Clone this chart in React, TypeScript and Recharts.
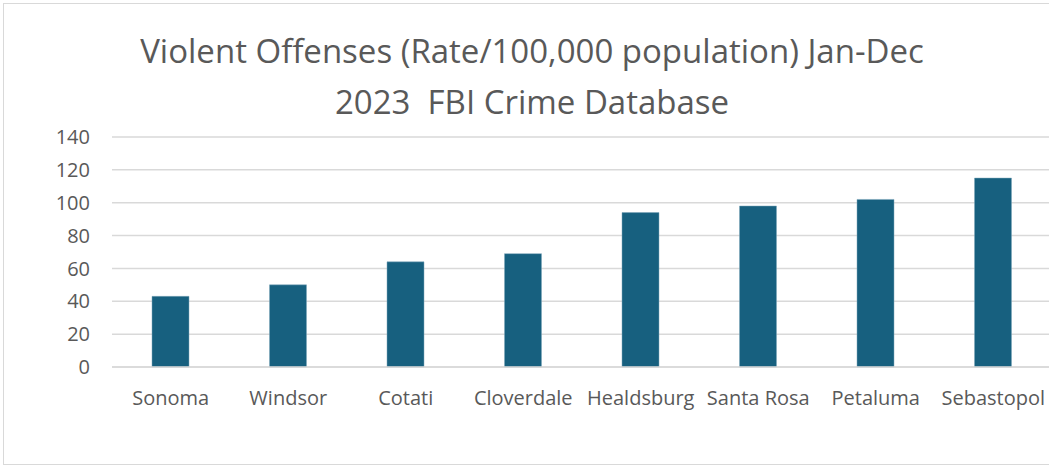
import { Bar, BarChart, CartesianGrid, XAxis, YAxis } from "recharts";

const CITIES = [
	"Sonoma",
	"Windsor",
	"Cotati",
	"Cloverdale",
	"Healdsburg",
	"Santa Rosa",
	"Petaluma",
	"Sebastopol",
];
const RATES = [43, 50, 64, 69, 94, 98, 102, 115];
const Y_TICKS = [0, 20, 40, 60, 80, 100, 120, 140];
const TITLE_LINES = [
	"Violent Offenses (Rate/100,000 population) Jan-Dec",
	"2023  FBI Crime Database",
];

const data = CITIES.map((city, i) => ({ city, rate: RATES[i] }));

const FONT = "'Open Sans', sans-serif";
const TEXT_GRAY = "#595959";
const GRID = "#d9d9d9";

export default function App() {
	return (
		<div
			style={{
				position: "absolute",
				left: 0,
				top: 0,
				width: 1049,
				height: 466,
				overflow: "hidden",
				background: "#fff",
				fontFamily: FONT,
			}}
		>
			{/* chart-area frame, open on the right like the cropped original */}
			<div
				style={{
					position: "absolute",
					left: 3,
					top: 3,
					width: 1100,
					height: 460,
					borderLeft: `1px solid ${GRID}`,
					borderTop: `1px solid ${GRID}`,
					borderBottom: `1px solid ${GRID}`,
				}}
			/>
			<div style={{ position: "absolute", left: 0, top: 0 }}>
				<BarChart
					width={1060}
					height={466}
					data={data}
					margin={{ top: 137, right: 8, left: 0, bottom: 69 }}
				>
					<CartesianGrid vertical={false} stroke={GRID} strokeWidth={1.5} />
					<XAxis
						dataKey="city"
						height={30}
						tickLine={false}
						tickSize={0}
						tickMargin={24}
						axisLine={{ stroke: GRID, strokeWidth: 1.5 }}
						interval={0}
						tick={{ fill: TEXT_GRAY, fontSize: 20, fontFamily: FONT }}
					/>
					<YAxis
						width={112}
						domain={[0, 140]}
						ticks={Y_TICKS}
						tickLine={false}
						tickSize={0}
						tickMargin={22}
						axisLine={false}
						tick={{ fill: TEXT_GRAY, fontSize: 20, fontFamily: FONT }}
					/>
					<Bar
						dataKey="rate"
						fill="#17607f"
						stroke="#7fa6bb"
						strokeWidth={0.5}
						barSize={37}
						isAnimationActive={false}
					/>
				</BarChart>
			</div>
			<svg
				width={1049}
				height={130}
				style={{ position: "absolute", left: 0, top: 0, pointerEvents: "none" }}
			>
				{TITLE_LINES.map((line, i) => (
					<text
						key={line}
						x={532}
						y={63 + i * 51}
						textAnchor="middle"
						fill={TEXT_GRAY}
						fontSize={33}
						fontFamily={FONT}
						style={{ whiteSpace: "pre" }}
					>
						{line}
					</text>
				))}
			</svg>
		</div>
	);
}
